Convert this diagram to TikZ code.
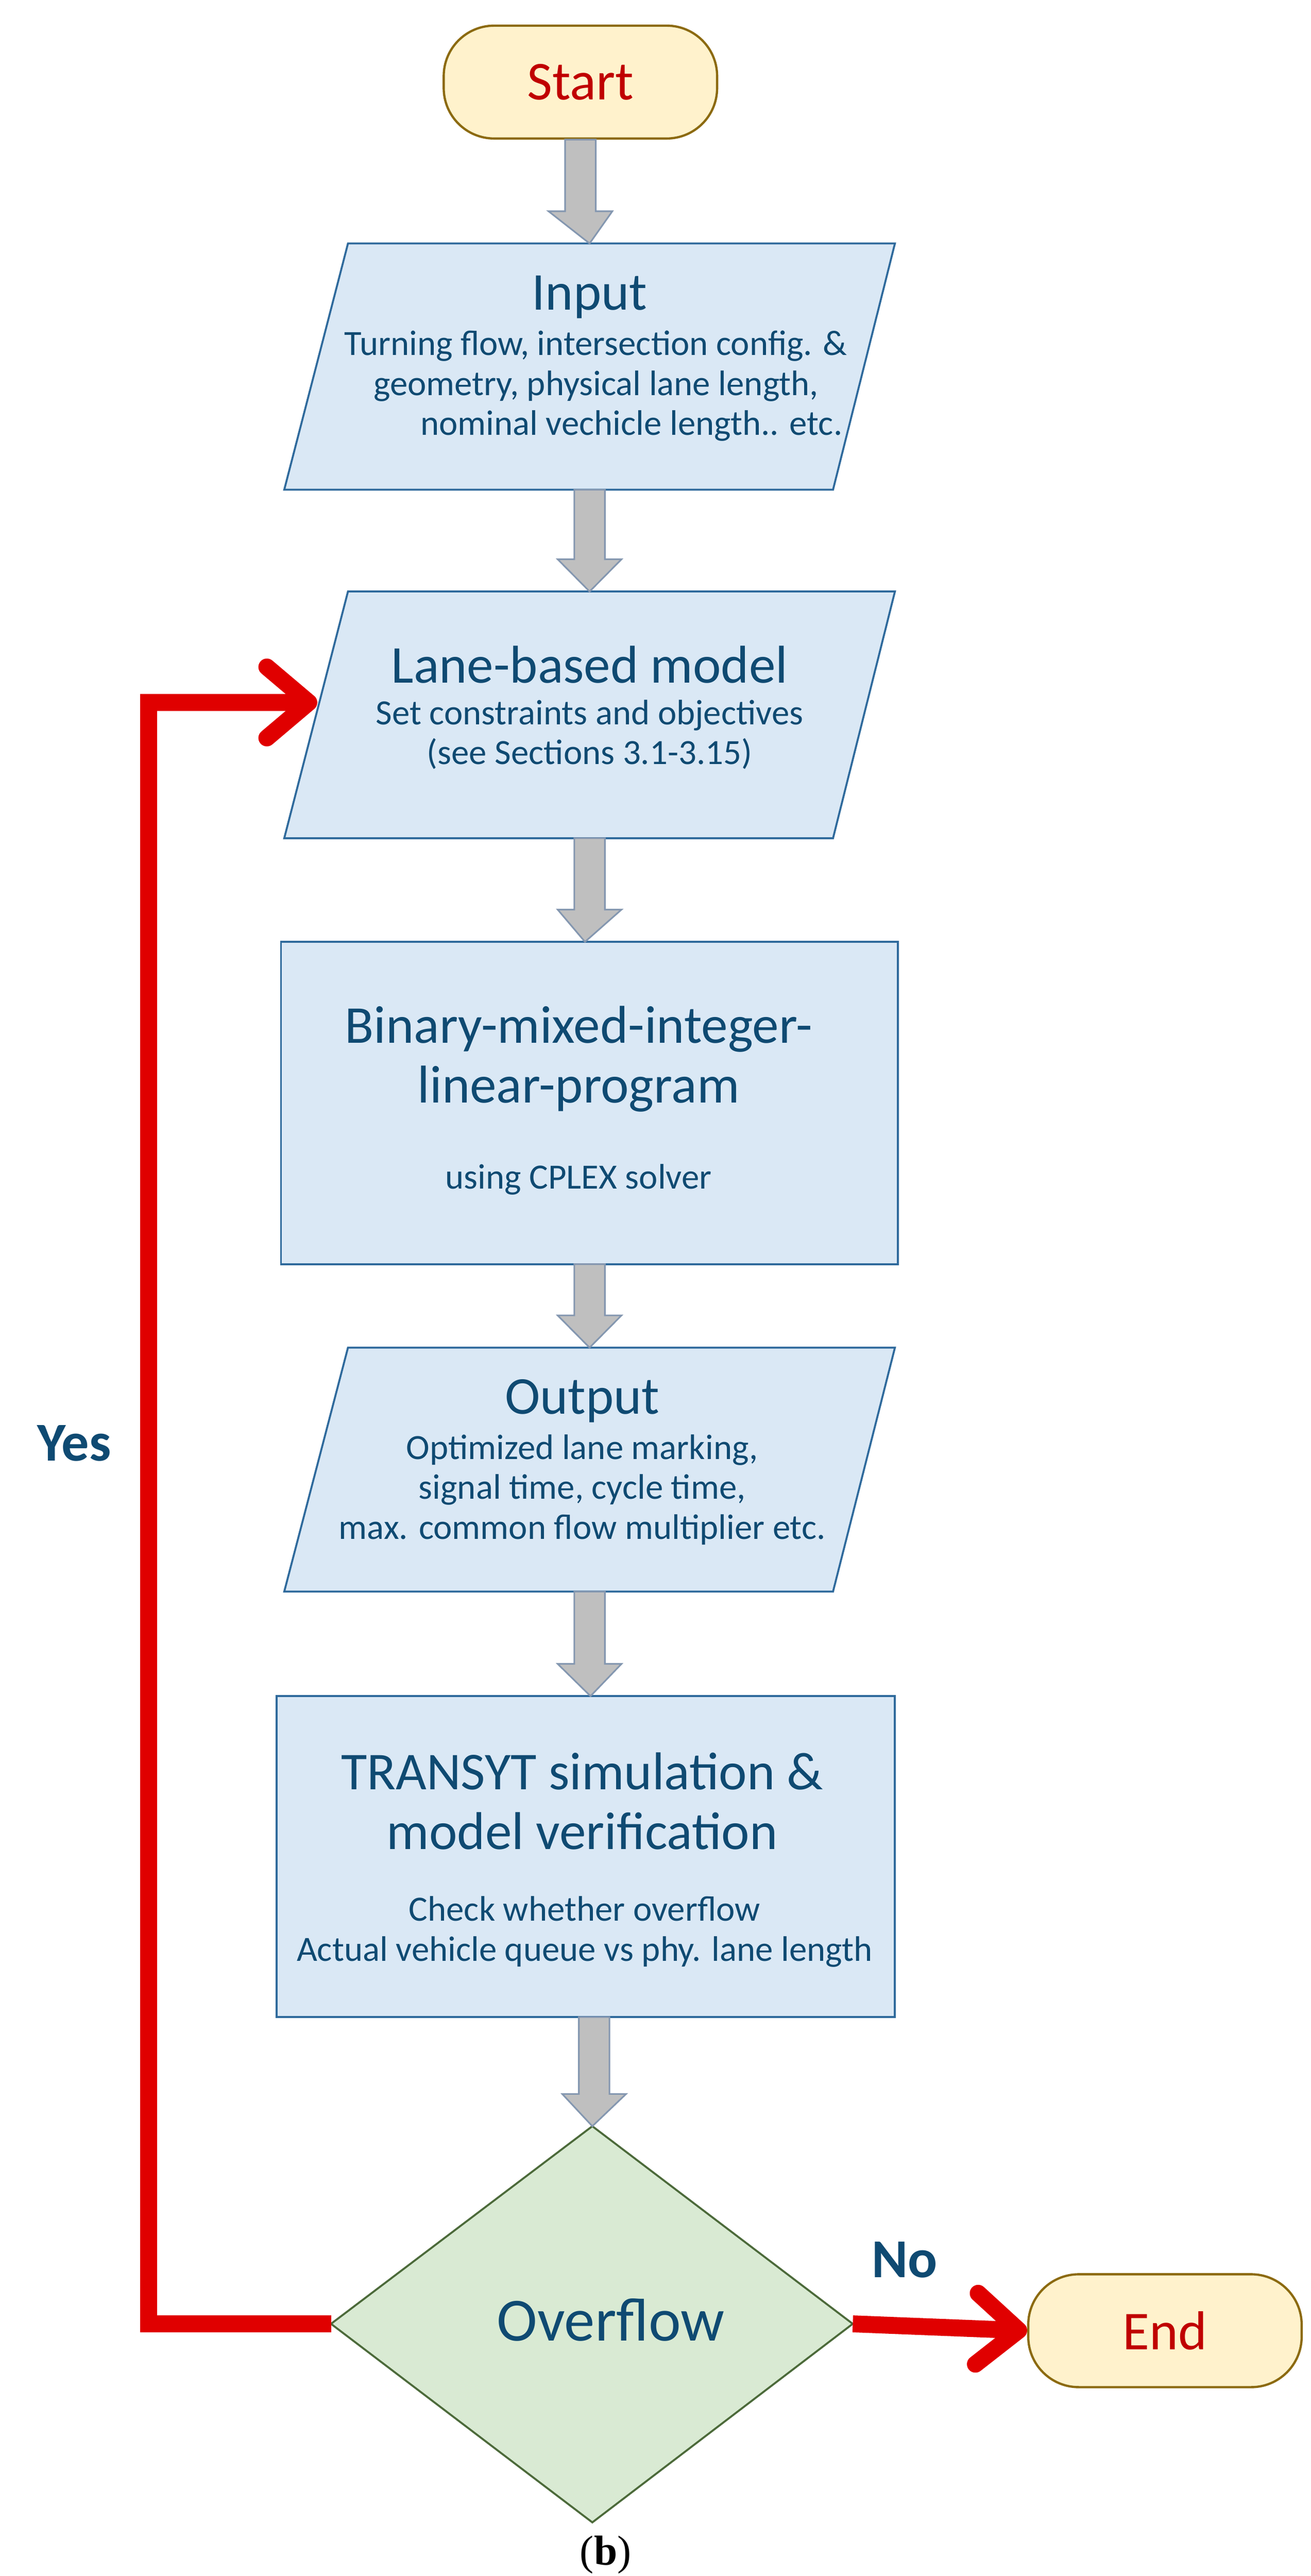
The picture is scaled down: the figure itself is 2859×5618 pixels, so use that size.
\documentclass[tikz,border=0pt]{standalone}
\usepackage{fontspec}
\setmainfont{Carlito}
\newfontfamily\capfont{Liberation Serif}
\usetikzlibrary{shapes.geometric,arrows.meta,calc}
\definecolor{bfill}{HTML}{DAE8F5}
\definecolor{bdraw}{HTML}{2F6A9C}
\definecolor{btext}{HTML}{0F4A72}
\definecolor{tfill}{HTML}{FFF2CC}
\definecolor{tdraw}{HTML}{8C6A10}
\definecolor{ttext}{HTML}{C00000}
\definecolor{dfill}{HTML}{D9EAD3}
\definecolor{ddraw}{HTML}{4C6A3A}
\definecolor{afill}{HTML}{BFBFBF}
\definecolor{adraw}{HTML}{8497B0}
\definecolor{rline}{HTML}{E00000}
\tikzset{
  term/.style={draw=tdraw,fill=tfill,line width=1.4pt,rounded corners=1.1cm,minimum width=5.96cm,minimum height=2.46cm,text=ttext,font=\fontsize{34}{40}\selectfont},
  box/.style={draw=bdraw,fill=bfill,line width=1.2pt},
  title/.style={text=btext,font=\fontsize{33}{37}\selectfont,align=center},
  sub/.style={text=btext,font=\fontsize{22}{24.7}\selectfont,align=center},
  garrow/.style={draw=adraw,fill=afill,line width=1pt},
  rarrow/.style={draw=rline,line width=10.5pt,-{Straight Barb[length=26pt,width=44pt,round]},line join=miter},
  lab/.style={text=btext,font=\bfseries\fontsize{34}{40}\selectfont}
}
\newcommand\blkarrow[2]{%
  \path let \p1=(#1), \p2=(#2) in
    [garrow] (\x1-9.5pt,\y1) -- (\x1+9.5pt,\y1) -- (\x1+9.5pt,\y2+20pt) -- (\x1+19.8pt,\y2+20pt)
    -- (\x2,\y2) -- (\x1-19.8pt,\y2+20pt) -- (\x1-9.5pt,\y2+20pt) -- cycle;}
\begin{document}
\begin{tikzpicture}[x=0.01cm,y=-0.01cm]
\useasboundingbox (0,0) rectangle (2859,5618);
% Start
\node[term] (start) at (1266,179) {Start};
% Input
\filldraw[box] (759,531) -- (1952,531) -- (1817,1068) -- (620,1068) -- cycle;
\coordinate (in-t) at (1286,531); \coordinate (in-b) at (1286,1068);
\node[title] (inT) at (1286,648) {Input};
\node[sub] (inS) at (1300,842) {Turning flow, intersection config. \&\\geometry, physical lane length,\\\hspace*{2em}nominal vechicle length.. etc.};
% Lane-based
\filldraw[box] (759,1290) -- (1952,1290) -- (1817,1828) -- (620,1828) -- cycle;
\coordinate (ln-t) at (1286,1290); \coordinate (ln-b) at (1286,1828);
\coordinate (ln-l) at (692,1532);
\node[title] (lnT) at (1286,1449) {Lane-based model};
\node[sub] (lnS) at (1286,1602) {Set constraints and objectives\\(see Sections 3.1-3.15)};
% Binary
\filldraw[box] (613,2054) rectangle (1958,2757);
\coordinate (bi-t) at (1276,2054); \coordinate (bi-b) at (1286,2757);
\node[title] (biT) at (1262,2310) {Binary-mixed-integer-\\linear-program};
\node[sub] (biS) at (1262,2572) {using CPLEX solver};
% Output
\filldraw[box] (759,2939) -- (1952,2939) -- (1817,3471) -- (620,3471) -- cycle;
\coordinate (ou-t) at (1286,2939); \coordinate (ou-b) at (1286,3471);
\node[title] (ouT) at (1270,3055) {Output};
\node[sub] (ouS) at (1270,3249) {Optimized lane marking,\\signal time, cycle time,\\max. common flow multiplier etc.};
% TRANSYT
\filldraw[box] (603,3699) rectangle (1952,4399);
\coordinate (tr-t) at (1288,3699); \coordinate (tr-b) at (1296,4399);
\node[title] (trT) at (1270,3928) {TRANSYT simulation \&\\model verification};
\node[sub] (trS) at (1275,4213) {Check whether overflow\\Actual vehicle queue vs phy. lane length};
% Diamond
\filldraw[draw=ddraw,fill=dfill,line width=1.2pt] (1292,4637) -- (1860,5068) -- (1292,5501) -- (722,5068) -- cycle;
\coordinate (dia-t) at (1292,4637); \coordinate (dia-l) at (722,5068); \coordinate (dia-r) at (1860,5068);
\node[text=btext,font=\fontsize{38}{44}\selectfont] (dia) at (1332,5059) {Overflow};
% End
\node[term] (end) at (2541,5083) {End};
% block arrows
\blkarrow{start.south}{in-t}
\blkarrow{in-b}{ln-t}
\blkarrow{ln-b}{bi-t}
\blkarrow{bi-b}{ou-t}
\blkarrow{ou-b}{tr-t}
\blkarrow{tr-b}{dia-t}
% red arrows
\coordinate (c1) at (324,5068); \coordinate (c2) at (324,1532);
\draw[rarrow] (dia-l) -- (c1) -- (c2) -- (ln-l);
\draw[rarrow] (dia-r) -- (end.west);
\node[lab] (yes) at (162,3148) {Yes};
\node[lab] (no) at (1973,4928) {No};
\node[font=\capfont\fontsize{26}{30}\selectfont] (cap) at (1321,5572) {(\textbf{b})};
\end{tikzpicture}
\end{document}
